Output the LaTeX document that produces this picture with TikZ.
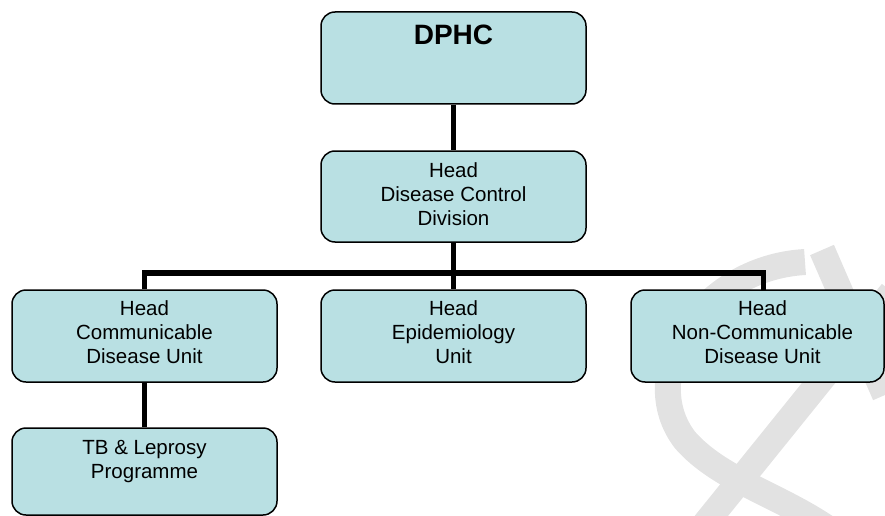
\documentclass[tikz,border=0pt]{standalone}
\usepackage{fontspec}
\setmainfont{Liberation Sans}
\definecolor{boxfill}{RGB}{185,224,227}
\definecolor{wm}{RGB}{226,226,226}
\begin{document}
\begin{tikzpicture}[x=1pt,y=-1pt,
  box/.style={draw=black, line width=1.5pt, fill=boxfill, rounded corners=14pt,
    minimum width=265pt, minimum height=92pt, inner sep=0pt},
  boxtext/.style={anchor=north, inner sep=0pt, align=center,
    font=\fontsize{20.5}{24}\selectfont},
  link/.style={line width=5.5pt, draw=black}]
\useasboundingbox (0,0) rectangle (885,516);
% watermark
\begin{scope}[draw=wm, line width=26pt]
\draw (805,262) .. controls (700,268) and (635,375) .. (685,440)
      .. controls (720,480) and (780,495) .. (830,530);
\draw (892,292) -- (700,530);
\draw (822,250) -- (885,395);
\end{scope}
% boxes
\node[box] (dphc) at (453.5,58) {};
\node[anchor=base, inner sep=0pt, font=\fontsize{28}{32}\bfseries\selectfont]
  (dphct) at ([yshift=-33pt]dphc.north) {DPHC};
\node[box, minimum height=91pt] (dcd) at (453.5,196.5) {};
\node[boxtext] (dcdt) at ([yshift=-12pt]dcd.north) {Head\\Disease Control\\Division};
\node[box] (cdu) at (144.5,336) {};
\node[boxtext] (cdut) at ([yshift=-11pt]cdu.north) {Head\\Communicable\\Disease Unit};
\node[box] (epi) at (453.5,336) {};
\node[boxtext] (epit) at ([yshift=-11pt]epi.north) {Head\\Epidemiology\\Unit};
\node[box, minimum width=253pt] (ncd) at (757.5,336) {};
\node[boxtext] (ncdt) at ([xshift=5pt,yshift=-11pt]ncd.north) {Head\\Non-Communicable\\Disease Unit};
\node[box, minimum height=87pt] (tb) at (144.5,471.5) {};
\node[boxtext] (tbt) at ([yshift=-13pt]tb.north) {TB \& Leprosy\\Programme};
% connectors
\coordinate (bar) at (453.5,273);
\coordinate (ncdin) at (763.5,290);
\draw[link] (dphc.south) -- (dcd.north);
\draw[link] (dcd.south) -- (epi.north);
\draw[link] (cdu.north) -- (cdu.north |- bar) -- (ncdin |- bar) -- (ncdin);
\draw[link] (cdu.south) -- (tb.north);
\end{tikzpicture}
\end{document}
